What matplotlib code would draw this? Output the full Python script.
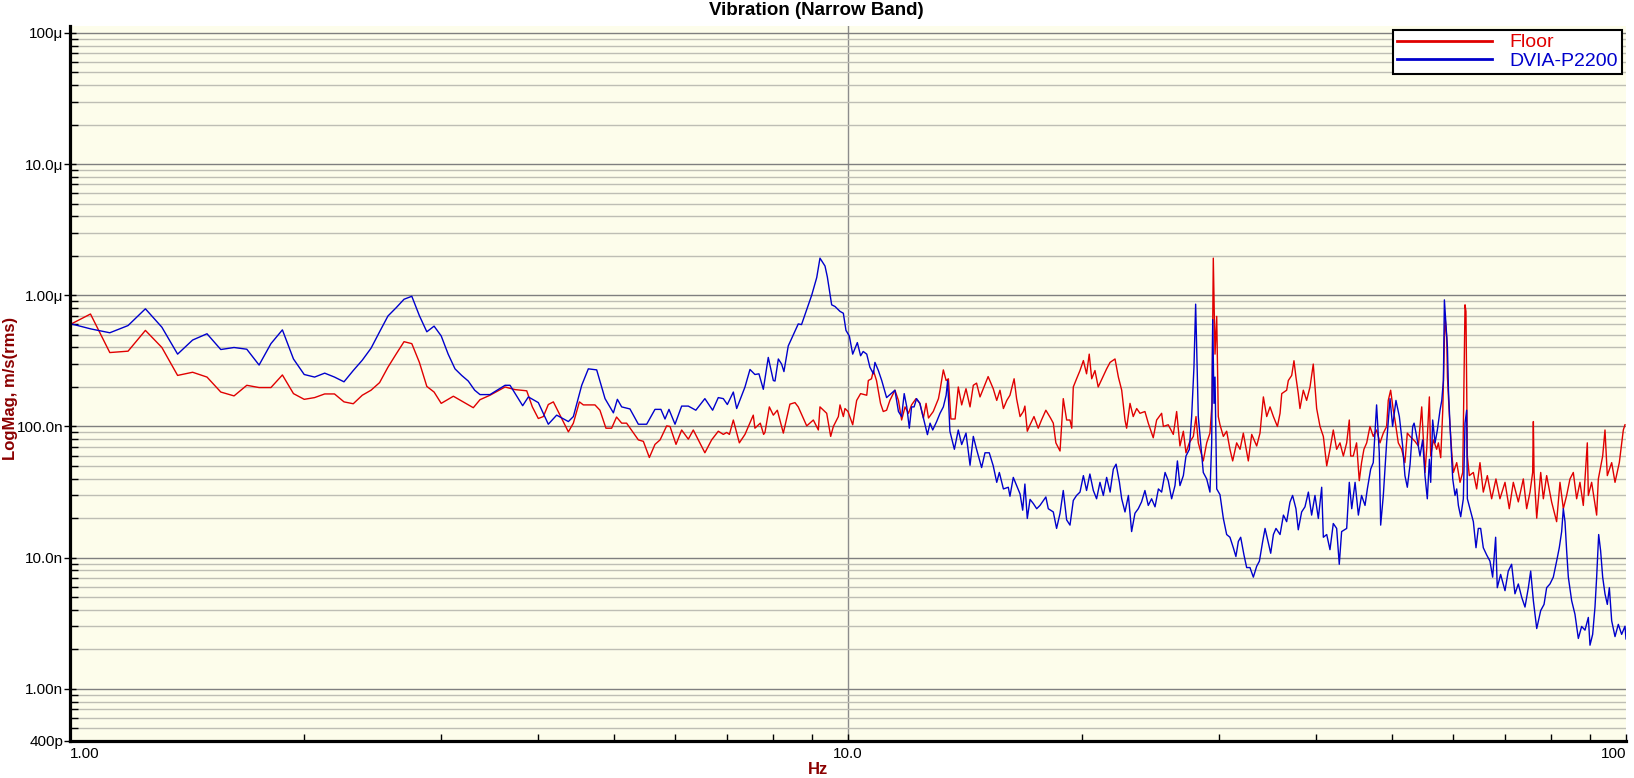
import numpy as np
import matplotlib
matplotlib.use("Agg")
import matplotlib.pyplot as plt
from matplotlib.ticker import FixedLocator, LogLocator, NullFormatter

plt.rcParams['font.family'] = ['Liberation Sans', 'DejaVu Sans']

# Floor spectrum: frequency (Hz) and level (nm/s rms)
floor_hz = [1.0, 1.0625, 1.125, 1.1875, 1.25, 1.3125, 1.375, 1.4375, 1.5, 1.5625, 1.625, 1.6875,
            1.75, 1.8125, 1.875, 1.9375, 2.0, 2.0625, 2.125, 2.1875, 2.25, 2.3125, 2.375, 2.4375,
            2.5, 2.5625, 2.625, 2.6875, 2.75, 2.8125, 2.875, 2.9375,
            3.0, 3.11, 3.299, 3.365, 3.466, 3.624, 3.733, 3.864, 3.929, 3.999, 4.059, 4.119, 4.181,
            4.264, 4.371, 4.436, 4.516, 4.569, 4.729, 4.799, 4.885, 4.968, 5.041, 5.118, 5.193,
            5.377, 5.457, 5.555, 5.648, 5.734, 5.847, 5.905, 6.011, 6.112, 6.234, 6.326, 6.547,
            6.679, 6.812, 6.914, 6.983, 7.04, 7.122, 7.25, 7.372, 7.555, 7.592, 7.714, 7.79, 7.821,
            7.923, 8.017, 8.113, 8.258, 8.421, 8.548, 8.631, 8.85, 9.025, 9.16, 9.204, 9.389, 9.5,
            9.576, 9.719, 9.766, 9.863, 9.911,
            10.0, 10.14, 10.26, 10.38, 10.57, 10.62, 10.72, 10.78, 10.88, 11.01, 11.1, 11.21, 11.32,
            11.49, 11.61, 11.72, 11.84, 11.96, 12.07, 12.23, 12.37, 12.5, 12.6, 12.69, 12.87, 13.07,
            13.13, 13.26, 13.37, 13.46, 13.56, 13.73, 13.86, 14.0, 14.18, 14.35, 14.49, 14.63, 14.78,
            15.14, 15.37, 15.53, 15.68, 15.84, 16.0, 16.15, 16.35, 16.47, 16.64, 16.8, 16.88, 17.0,
            17.14, 17.34, 17.56, 17.73, 17.96, 18.21, 18.36, 18.5, 18.73, 18.91, 19.1, 19.29, 19.39,
            19.48, 19.67, 19.87, 20.07, 20.26, 20.42, 20.57, 20.77, 20.97, 21.18, 21.5, 21.72, 22.04,
            22.26, 22.48, 22.7, 22.81, 23.04, 23.26, 23.5, 23.73, 24.08, 24.32, 24.68, 24.93, 25.3,
            25.43, 25.8, 26.19, 26.45, 26.71, 26.98, 27.19, 27.46, 27.79, 28.01, 28.2, 28.62, 28.91,
            29.19, 29.37, 29.48, 29.63, 29.78, 29.92,
            30.07, 30.37, 30.67, 30.97, 31.22, 31.59, 31.91, 32.22, 32.7, 33.03, 33.52, 33.85, 34.19,
            34.53, 34.87, 35.22, 35.64, 35.92, 36.1, 36.63, 36.81, 37.18, 37.43, 37.65, 37.91, 38.1,
            38.48, 38.86, 39.25, 39.63, 39.83, 40.03, 40.43, 40.83, 41.24, 41.64, 42.05, 42.47, 42.89,
            43.32, 43.75, 44.09, 44.27, 44.61, 45.05, 45.41, 45.72, 46.04, 46.42, 46.87, 47.33, 47.8,
            48.28, 48.76, 49.24, 49.48, 49.83, 50.22, 50.47, 50.97, 51.48, 51.98, 52.35,
            52.78, 53.55, 54.09, 54.63, 55.16, 55.44, 55.88, 56.1, 56.55, 57.1, 57.39, 57.79, 58.14,
            58.42, 58.55, 58.83, 58.95, 59.3, 59.71, 60.0, 60.59, 61.19, 61.68, 62.1, 62.27, 62.53,
            62.89, 63.65, 64.27, 64.91, 65.55, 66.34, 67.19, 68.05, 68.86, 69.9, 70.79, 71.64, 72.71,
            73.79, 74.53, 75.27, 75.86, 76.02, 76.17, 76.78, 77.69, 78.3, 79.07, 80.24, 81.44, 82.25,
            83.07, 83.89, 84.72, 85.56, 86.41, 87.26, 88.13, 89.18, 89.45, 90.33, 91.68, 92.14, 93.33,
            93.97, 94.62, 95.85, 96.8, 98.04, 99.21, 99.7]
floor_nm = [598, 720, 366, 375, 540, 400, 245, 259, 238, 183, 171, 206,
            198, 198, 247, 178, 161, 166, 177, 177, 154, 149, 173, 189,
            216, 283, 356, 443, 428, 308, 202, 183,
            150, 170, 139, 160, 173, 200, 191, 187, 141, 115, 119, 147, 154,
            122, 91, 106, 154, 146, 146, 133, 97, 97, 118, 106, 106,
            79, 77, 58, 73, 79, 101, 100, 73, 94, 80, 94, 63,
            79, 92, 87, 90, 87, 112, 75, 87, 122, 97, 106, 87, 90,
            141, 122, 133, 89, 148, 152, 141, 101, 112, 94, 141, 126, 84,
            100, 119, 146, 119, 137,
            130, 103, 158, 178, 173, 224, 231, 267, 224, 150, 130, 133, 158,
            189, 158, 112, 141, 126, 146, 163, 150, 116, 150, 116, 130, 163,
            189, 270, 224, 231, 114, 114, 200, 146, 194, 141, 206, 214, 168,
            240, 194, 158, 189, 137, 158, 173, 231, 163, 119, 130, 143, 92,
            103, 119, 97, 112, 133, 116, 106, 75, 65, 163, 112, 112, 97,
            200, 231, 267, 318, 252, 356, 231, 267, 200, 227, 275, 308, 327,
            238, 189, 112, 97, 150, 119, 137, 126, 130, 106, 82, 112, 126,
            100, 103, 87, 130, 71, 92, 63, 75, 84, 119, 75, 54.6, 75,
            89, 150, 1920, 356, 691, 119,
            103, 84, 92, 67, 54.6, 75, 67, 89, 54.6, 87, 71, 89, 168,
            119, 141, 119, 100, 126, 178, 189, 224, 245, 317, 238, 178, 137,
            189, 158, 200, 299, 200, 137, 100, 84, 50.1, 67, 94, 67, 75,
            59.5, 75, 112, 59.5, 59.5, 75, 38.6, 53, 67, 75, 100, 84, 94,
            75, 89, 100, 158, 189, 133, 112, 75, 67, 53, 89,
            84, 77, 71, 141, 44.6, 67, 168, 59.5, 79, 67, 75, 57.8, 133,
            449, 672, 475, 238, 119, 63, 44.6, 53, 37.5, 44.6, 846, 754, 59.5,
            42.2, 44.6, 33.4, 53, 31.6, 42.2, 28.1, 39.8, 28.1, 37.5, 23.6, 37.5, 26.6,
            39.8, 23.6, 31.6, 44.6, 109, 44.6, 20.0, 44.6, 28.1, 42.2, 26.6, 18.8, 37.5,
            23.6, 29.8, 39.8, 44.6, 28.1, 37.5, 25.0, 75, 29.8, 37.5, 21.1, 39.8, 59.5,
            94, 42.2, 53, 37.5, 53, 94, 103]

# DVIA-P2200 spectrum: frequency (Hz) and level (nm/s rms)
dvia_hz = [1.0, 1.0625, 1.125, 1.1875, 1.25, 1.3125, 1.375, 1.4375, 1.5, 1.5625, 1.625, 1.6875,
           1.75, 1.8125, 1.875, 1.9375, 2.0, 2.0625, 2.125, 2.1875, 2.25, 2.3125, 2.375, 2.4375,
           2.5, 2.5625, 2.625, 2.6875, 2.75, 2.8125, 2.875, 2.9375,
           3.0, 3.0625, 3.125, 3.1875, 3.25, 3.3125, 3.365, 3.466, 3.624, 3.678, 3.818, 3.883,
           3.999, 4.119, 4.222, 4.371, 4.436, 4.547, 4.637, 4.753, 4.872, 4.994, 5.053, 5.118,
           5.245, 5.377, 5.511, 5.648, 5.748, 5.818, 5.887, 5.993, 6.112, 6.234, 6.374, 6.547,
           6.699, 6.812, 6.914, 6.997, 7.122, 7.193, 7.372, 7.482, 7.592, 7.683, 7.783, 7.898,
           8.017, 8.057, 8.137, 8.216, 8.273, 8.379, 8.503, 8.631, 8.715, 8.85, 8.982, 9.116,
           9.204, 9.342, 9.407, 9.528, 9.622, 9.766, 9.863, 9.94, 10.04,
           10.14, 10.28, 10.38, 10.46, 10.57, 10.67, 10.78, 10.83, 10.94, 11.05, 11.21, 11.49,
           11.61, 11.72, 11.81, 11.9, 11.99, 12.07, 12.16, 12.25, 12.37, 12.5, 12.65, 12.75,
           12.85, 13.0, 13.13, 13.26, 13.37, 13.43, 13.52, 13.7, 13.86, 14.0, 14.18, 14.35,
           14.49, 14.63, 14.85, 15.0, 15.19, 15.37, 15.53, 15.65, 15.84, 16.07, 16.15, 16.31,
           16.64, 16.77, 16.88, 17.0,
           17.14, 17.31, 17.48, 17.65, 17.83, 17.96, 18.09, 18.36, 18.54, 18.73, 18.91, 19.1,
           19.29, 19.48, 19.67, 19.87, 20.07, 20.26, 20.46, 20.67, 20.87, 21.08, 21.29, 21.5,
           21.72, 21.93, 22.11, 22.33, 22.48, 22.7, 22.93, 23.15, 23.38, 23.61, 23.84, 24.08,
           24.32, 24.56, 24.81, 25.06, 25.3, 25.56, 25.8, 26.06, 26.32, 26.51, 26.71, 26.98,
           27.19, 27.46, 27.65, 27.84, 27.98, 28.2, 28.62, 28.91, 29.19, 29.34, 29.43, 29.54,
           29.63, 29.78, 30.07,
           30.37, 30.67, 30.97, 31.28, 31.52, 31.75, 31.97, 32.28, 32.54, 32.86, 33.19, 33.52,
           33.79, 34.12, 34.36, 34.7, 34.94, 35.22, 35.49, 35.92, 36.28, 36.63, 36.99, 37.28,
           37.65, 37.91, 38.29, 38.67, 39.06, 39.44, 39.83, 40.23, 40.63, 40.83, 41.24, 41.64,
           42.05, 42.47, 42.8, 43.1, 43.75, 44.09, 44.41, 44.85, 45.29, 45.72, 46.19, 46.51,
           46.97, 47.33, 47.8, 48.18, 48.38, 48.76, 49.24, 49.74, 50.12, 50.62, 51.13, 51.63,
           51.98, 52.35,
           52.78, 53.19, 53.41, 53.82, 54.35, 54.78, 55.16, 55.54, 55.88, 56.1, 56.43, 56.83,
           57.22, 57.67, 57.97, 58.25, 58.42, 58.72, 58.95, 59.13, 59.41, 59.88, 60.29, 60.59,
           60.89, 61.31, 61.79, 62.1, 62.4, 62.53, 63.02, 63.65, 64.15, 64.59, 65.04, 65.55,
           66.2, 66.86, 67.39, 67.99, 68.32, 69.0, 69.9, 70.58, 71.28, 71.99, 72.71, 73.43,
           74.16, 74.9, 75.42, 76.02, 76.78, 77.69, 78.46, 79.07, 79.85, 80.64, 81.44, 82.08,
           82.66, 83.07, 83.48, 83.89, 84.31, 85.14, 85.98, 86.84, 87.7, 88.57, 89.45, 89.89,
           90.6, 91.23, 91.68, 92.23, 92.76, 93.33, 93.97, 94.62, 95.19, 95.85, 96.8, 97.75,
           98.72, 99.7, 100.0]
dvia_nm = [609, 555, 518, 588, 789, 571, 356, 456, 509, 386, 400, 388,
           294, 428, 545, 327, 249, 238, 255, 238, 219, 267, 320, 395,
           527, 695, 803, 933, 983, 699, 527, 582,
           490, 356, 275, 245, 222, 189, 175, 175, 206, 206, 144, 168,
           152, 104, 122, 109, 119, 206, 275, 270, 163, 127, 161, 141,
           136, 104, 104, 135, 135, 114, 135, 104, 143, 143, 133, 163,
           133, 166, 163, 147, 183, 137, 200, 272, 249, 252, 192, 336,
           224, 222, 327, 299, 262, 411, 498, 605, 598, 776, 1003, 1366,
           1920, 1672, 1381, 846, 822, 754, 730, 540, 489,
           356, 436, 346, 373, 356, 283, 252, 308, 267, 224, 166, 189,
           130, 119, 178, 141, 97, 141, 141, 163, 150, 116, 86.6, 106,
           94, 109, 126, 141, 173, 224, 92, 67, 94, 72.8, 89, 50.6,
           84, 67, 48.6, 63, 63, 50.1, 37.5, 44.6, 33.4, 34.4, 29.4, 40.9,
           30.6, 23.0, 36.4, 19.9,
           27.8, 25.8, 23.6, 25.0, 27.3, 29.0, 23.6, 22.3, 16.7, 21.8, 32.5, 19.4,
           17.7, 27.3, 29.8, 31.6, 42.2, 32.5, 43.4, 32.5, 28.1, 37.5, 29.8, 40.9,
           31.6, 47.3, 51.6, 37.5, 28.1, 22.3, 29.8, 15.8, 21.8, 23.6, 26.6, 32.5,
           25.0, 28.1, 24.4, 33.4, 31.6, 44.6, 38.6, 28.1, 35.4, 54.6, 35.4, 42.2,
           59.5, 66.8, 119, 283, 856, 119, 44.6, 39.8, 31.6, 75, 652, 150,
           238, 33.4, 30.2,
           19.9, 15.0, 14.3, 11.9, 10.2, 13.3, 14.3, 10.5, 8.4, 8.4, 7.1, 8.6,
           9.4, 13.3, 16.7, 12.9, 10.8, 15.0, 16.7, 15.0, 21.1, 18.8, 26.5, 29.8,
           23.6, 16.3, 22.3, 24.4, 31.6, 21.1, 29.8, 19.9, 34.4, 14.3, 15.0, 11.5,
           18.2, 16.7, 8.9, 15.8, 16.7, 37.5, 23.6, 37.5, 21.1, 29.8, 25.0, 33.4,
           47.3, 53, 146, 63, 17.7, 29.8, 75, 163, 100, 158, 119, 71,
           42.2, 34.4,
           51.5, 100, 106, 84, 59.5, 79, 42.2, 28.1, 56.2, 37.5, 112, 75,
           94, 133, 158, 224, 923, 565, 400, 189, 100, 39.8, 29.8, 33.4,
           25.0, 20.5, 28.1, 106, 133, 28.1, 23.6, 18.8, 11.9, 16.7, 16.7, 11.9,
           10.5, 9.4, 7.1, 14.3, 5.9, 7.45, 5.6, 7.9, 8.9, 5.3, 6.3, 5.0,
           4.2, 5.9, 7.9, 4.7, 2.88, 3.95, 4.4, 5.9, 6.3, 7.1, 9.4, 11.9,
           15.8, 23.6, 18.8, 11.3, 7.1, 4.7, 3.7, 2.42, 2.99, 2.8, 3.5, 2.15,
           2.6, 4.2, 7.1, 15.0, 11.3, 7.1, 5.3, 4.4, 5.9, 3.3, 2.5, 3.1,
           2.6, 3.0, 2.4]

# axis ticks
y_ticks = [4e-10, 1e-9, 1e-8, 1e-7, 1e-6, 1e-5, 1e-4]
y_labels = ['400p', '1.00n', '10.0n', '100.0n', '1.00\u03bc', '10.0\u03bc', '100\u03bc']
x_ticks = [1, 10, 100]
x_labels = ['1.00', '10.0', '100']

W, H = 1634, 778
fig = plt.figure(figsize=(W / 100, H / 100), dpi=100, facecolor='white')
ax = fig.add_axes([70 / W, 1 - 741 / H, (1626 - 70) / W, (741 - 26) / H])
ax.set_facecolor('#FDFDEB')

red = '#E00000'
blue = '#0000CC'
ax.plot(floor_hz, np.array(floor_nm) * 1e-9, color=red, lw=1.0, label='Floor')
ax.plot(dvia_hz, np.array(dvia_nm) * 1e-9, color=blue, lw=1.0, label='DVIA-P2200')

ax.set_xscale('log')
ax.set_yscale('log')
ax.set_xlim(1, 100)
ax.set_ylim(4e-10, 1.13e-4)

# y axis
ax.yaxis.set_major_locator(FixedLocator(y_ticks))
ax.yaxis.set_minor_locator(LogLocator(base=10, subs=range(2, 10)))
ax.yaxis.set_minor_formatter(NullFormatter())
ax.set_yticklabels(y_labels)
ax.tick_params(axis='y', which='major', direction='inout', length=8, width=1,
               labelsize=11, pad=1, colors='black')
ax.tick_params(axis='y', which='minor', direction='in', length=6, width=1)

# x axis
ax.xaxis.set_major_locator(FixedLocator(x_ticks))
ax.xaxis.set_minor_locator(LogLocator(base=10, subs=range(2, 10)))
ax.xaxis.set_minor_formatter(NullFormatter())
ax.set_xticklabels(x_labels)
ax.tick_params(axis='x', which='both', direction='in', length=5, width=1,
               labelsize=11, pad=4)
for lab, ha in zip(ax.get_xticklabels(), ['left', 'center', 'right']):
    lab.set_ha(ha)

# grid
ax.set_axisbelow(True)
ax.yaxis.grid(True, which='major', color='#7F7F7F', lw=1)
ax.yaxis.grid(True, which='minor', color='#BEBEB4', lw=1)
ax.axvline(10, color='#8C8C8C', lw=1, zorder=0.5)

for s in ['top', 'right']:
    ax.spines[s].set_visible(False)
for s in ['left', 'bottom']:
    ax.spines[s].set_linewidth(2.3)
    ax.spines[s].set_color('black')

# legend
leg = ax.legend(loc='upper right', fontsize=14, handlelength=4.9, handletextpad=0.9,
                labelspacing=0.05, borderpad=0.2, borderaxespad=0.2,
                fancybox=False, framealpha=1, edgecolor='black')
leg.get_frame().set_linewidth(1.5)
for line in leg.get_lines():
    line.set_linewidth(2)
for txt, c in zip(leg.get_texts(), [red, blue]):
    txt.set_color(c)

# labels
fig.text(816 / W, 1 - 15 / H, 'Vibration (Narrow Band)', ha='center', va='baseline',
         fontsize=13.5, fontweight='bold', color='black')
fig.text(818 / W, 1 - 769 / H, 'Hz', ha='center', va='center', fontsize=12,
         fontweight='bold', color='#8B0000')
fig.text(11 / W, 1 - 388 / H, 'LogMag, m/s(rms)', rotation=90, ha='center', va='center',
         fontsize=12, fontweight='bold', color='#8B0000')

fig.savefig('out.png', dpi=100)
